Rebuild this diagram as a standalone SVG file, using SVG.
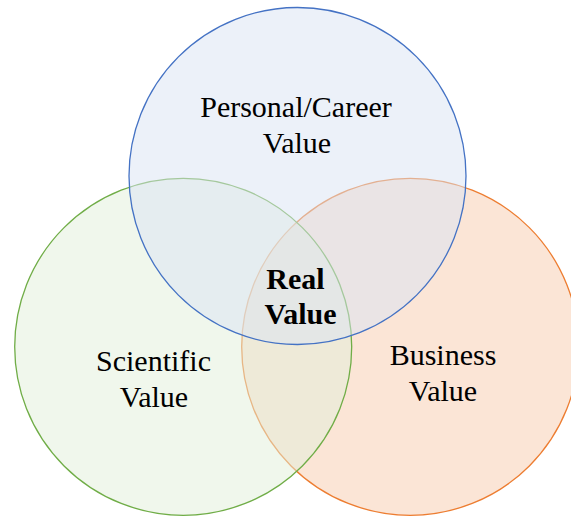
<svg xmlns="http://www.w3.org/2000/svg" width="571" height="516" viewBox="0 0 571 516">
  <style>
    .ring { stroke-width: 1.3; }
    .label { font-family: "Liberation Serif", "Times New Roman", serif; font-size: 30px; fill: #000; text-anchor: middle; }
    .core { font-weight: bold; }
  </style>
  <rect width="571" height="516" fill="#ffffff"/>
  <g id="business">
    <circle class="ring" cx="410.2" cy="346.8" r="168.5" fill="#F8CBAD" fill-opacity="0.5" stroke="#ED7D31"/>
  </g>
  <g id="scientific">
    <circle class="ring" cx="183.2" cy="346.8" r="168.5" fill="#E2EFDA" fill-opacity="0.5" stroke="#70AD47"/>
  </g>
  <g id="personal">
    <circle class="ring" cx="297.5" cy="176" r="168.5" fill="#D9E3F3" fill-opacity="0.5" stroke="#4472C4"/>
  </g>
  <g id="labels">
    <text class="label" x="296" y="117">Personal/Career</text>
    <text class="label" x="297" y="153">Value</text>
    <text class="label" x="153.5" y="371">Scientific</text>
    <text class="label" x="154" y="407">Value</text>
    <text class="label" x="443" y="365">Business</text>
    <text class="label" x="443" y="401">Value</text>
    <text class="label core" x="295.5" y="289">Real</text>
    <text class="label core" x="300.5" y="324">Value</text>
  </g>
</svg>
